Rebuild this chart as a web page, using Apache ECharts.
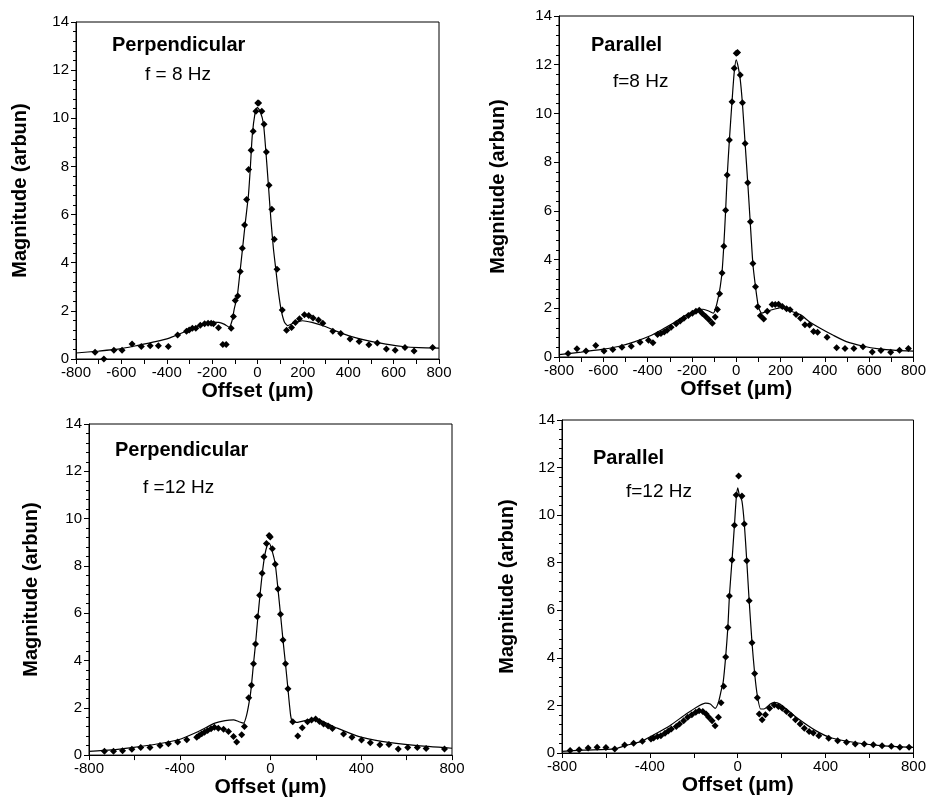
<!DOCTYPE html>
<html><head><meta charset="utf-8">
<script src="https://cdn.jsdelivr.net/npm/echarts@6/dist/echarts.min.js"></script>
<style>html,body{margin:0;padding:0;background:#fff}#c{width:929px;height:799px}</style>
</head><body><div id="c"></div>
<script>
// ---- tick labels ----
const yTicks = [0, 2, 4, 6, 8, 10, 12, 14];
const xTicksTop = [-800, -600, -400, -200, 0, 200, 400, 600, 800];
const xTicksBottom = [-800, -400, 0, 400, 800];

// ---- panel titles ----
const panelTitles = ['Perpendicular', 'Parallel', 'Perpendicular', 'Parallel'];
const panelFreqs = ['f = 8 Hz', 'f=8 Hz', 'f =12 Hz', 'f=12 Hz'];
const xAxisTitle = 'Offset (\u03bcm)';
const yAxisTitle = 'Magnitude (arbun)';

// ---- Panel 1: Perpendicular, 8 Hz ----
const p1Points = [[-716,0.28],[-677,0.0],[-633,0.36],[-597,0.36],[-553,0.62],[-512,0.52],[-473,0.55],[-437,0.55],[-393,0.52],[-352,1.0],[-313,1.15],[-301,1.2],[-287,1.28],[-272,1.28],[-252,1.4],[-233,1.46],[-218,1.49],[-204,1.49],[-194,1.46],[-172,1.3],[-153,0.6],[-138,0.6],[-116,1.28],[-106,1.77],[-98,2.43],[-87,2.62],[-76,3.63],[-67,4.6],[-57,5.57],[-48,6.63],[-39,7.87],[-28,8.67],[-19,9.46],[-7,10.29],[1,10.64],[5,10.64],[19,10.29],[29,9.75],[39,8.6],[51,7.22],[63,6.22],[74,4.97],[86,3.73],[109,2.04],[128,1.19],[150,1.31],[167,1.52],[185,1.67],[207,1.84],[226,1.81],[245,1.7],[269,1.62],[288,1.49],[332,1.15],[367,1.06],[408,0.83],[448,0.73],[491,0.59],[528,0.66],[568,0.42],[607,0.36],[650,0.48],[690,0.33],[772,0.48]];
const p1Curve = [[-800,0.25],[-700,0.33],[-600,0.43],[-536,0.55],[-450,0.72],[-389,0.87],[-315,1.15],[-242,1.45],[-200,1.53],[-170,1.52],[-145,1.44],[-125,1.32],[-112,1.6],[-102,2.1],[-89,2.63],[-77,3.63],[-65,4.67],[-54,5.64],[-40,6.8],[-32,7.88],[-23,9.3],[-11,10.2],[-1,10.45],[11,10.3],[26,9.79],[37,8.61],[48,7.23],[59,5.8],[70,4.6],[81,3.7],[92,2.8],[104,2.05],[118,1.55],[132,1.39],[160,1.5],[198,1.59],[240,1.52],[286,1.39],[350,1.15],[419,0.92],[490,0.75],[566,0.62],[640,0.52],[712,0.47],[800,0.45]];

// ---- Panel 2: Parallel, 8 Hz ----
const p2Points = [[-759,0.14],[-719,0.34],[-678,0.25],[-634,0.47],[-597,0.25],[-557,0.31],[-516,0.4],[-474,0.44],[-434,0.61],[-396,0.69],[-376,0.59],[-355,0.92],[-340,0.96],[-325,1.03],[-312,1.1],[-294,1.22],[-271,1.36],[-253,1.48],[-236,1.59],[-216,1.7],[-198,1.8],[-182,1.88],[-167,1.92],[-153,1.79],[-138,1.66],[-123,1.53],[-108,1.39],[-95,1.64],[-85,1.95],[-75,2.6],[-64,3.45],[-56,4.55],[-48,6.03],[-41,7.47],[-31,8.91],[-19,10.48],[-9,11.85],[0,12.47],[6,12.5],[18,11.58],[28,10.44],[40,8.77],[52,7.15],[64,5.55],[75,3.84],[87,2.88],[97,2.06],[109,1.69],[124,1.56],[140,1.88],[162,2.16],[176,2.16],[191,2.17],[208,2.07],[227,1.98],[243,1.94],[270,1.74],[290,1.59],[310,1.32],[331,1.31],[349,1.05],[367,1.02],[410,0.81],[453,0.38],[491,0.35],[531,0.35],[572,0.42],[614,0.21],[653,0.27],[697,0.2],[737,0.28],[777,0.35]];
const p2Curve = [[-800,0.1],[-700,0.2],[-600,0.32],[-532,0.43],[-460,0.62],[-385,0.88],[-340,1.1],[-297,1.32],[-238,1.66],[-200,1.85],[-170,1.95],[-150,1.96],[-120,1.87],[-103,1.8],[-90,2.1],[-80,2.5],[-72,2.9],[-64,3.5],[-56,4.6],[-48,6.0],[-41,7.4],[-31,8.9],[-19,10.5],[-9,11.7],[0,12.2],[9,11.9],[18,11.4],[28,10.4],[40,8.77],[52,7.15],[63,5.55],[75,3.84],[87,2.88],[100,2.07],[115,1.8],[140,1.88],[174,1.97],[203,2.03],[240,1.9],[291,1.73],[330,1.45],[379,1.18],[440,0.88],[497,0.63],[570,0.45],[644,0.33],[720,0.27],[800,0.24]];

// ---- Panel 3: Perpendicular, 12 Hz ----
const p3Points = [[-732,0.16],[-692,0.16],[-652,0.18],[-611,0.25],[-572,0.32],[-531,0.32],[-487,0.41],[-450,0.48],[-409,0.55],[-369,0.65],[-325,0.76],[-315,0.83],[-303,0.9],[-291,0.97],[-277,1.04],[-262,1.11],[-247,1.18],[-230,1.14],[-207,1.09],[-185,1.0],[-163,0.79],[-149,0.55],[-127,0.86],[-115,1.21],[-96,2.43],[-84,2.95],[-75,3.86],[-66,4.7],[-58,5.85],[-48,6.76],[-37,7.69],[-29,8.39],[-18,8.95],[-6,9.29],[-1,9.22],[8,8.73],[21,8.07],[33,7.02],[44,5.96],[55,4.87],[66,3.86],[77,2.81],[98,1.41],[120,0.81],[140,1.16],[163,1.41],[181,1.48],[199,1.53],[216,1.42],[234,1.32],[254,1.23],[273,1.13],[322,0.89],[359,0.75],[401,0.64],[440,0.52],[482,0.44],[522,0.45],[563,0.26],[605,0.32],[647,0.32],[686,0.28],[767,0.26]];
const p3Curve = [[-800,0.16],[-700,0.22],[-611,0.32],[-500,0.47],[-406,0.65],[-318,1.0],[-245,1.35],[-200,1.46],[-163,1.49],[-141,1.42],[-119,1.35],[-105,1.7],[-90,2.47],[-84,2.95],[-75,3.86],[-66,4.7],[-56,5.8],[-46,6.8],[-36,7.7],[-26,8.4],[-15,8.85],[-5,8.95],[8,8.6],[21,8.07],[33,7.02],[44,5.96],[55,4.87],[66,3.86],[76,2.89],[85,2.0],[93,1.49],[115,1.38],[167,1.49],[196,1.54],[284,1.18],[387,0.79],[490,0.58],[637,0.41],[800,0.29]];

// ---- Panel 4: Parallel, 12 Hz ----
const p4Points = [[-763,0.1],[-722,0.14],[-681,0.21],[-640,0.24],[-600,0.23],[-560,0.17],[-515,0.34],[-474,0.41],[-434,0.49],[-395,0.59],[-383,0.63],[-365,0.69],[-350,0.73],[-331,0.83],[-316,0.93],[-302,1.01],[-280,1.11],[-265,1.22],[-246,1.36],[-228,1.5],[-209,1.61],[-191,1.71],[-176,1.78],[-159,1.74],[-144,1.64],[-132,1.5],[-117,1.36],[-103,1.15],[-88,1.5],[-76,2.11],[-64,2.81],[-55,4.04],[-45,5.28],[-38,6.6],[-26,8.11],[-15,9.58],[-7,10.85],[4,11.65],[19,10.8],[30,9.63],[41,8.08],[52,6.4],[65,4.63],[77,3.34],[89,2.32],[98,1.64],[111,1.4],[126,1.61],[145,1.88],[166,2.02],[185,1.96],[203,1.88],[222,1.74],[241,1.6],[263,1.4],[284,1.22],[303,1.04],[325,0.9],[344,0.84],[369,0.73],[414,0.62],[455,0.52],[495,0.45],[535,0.38],[576,0.38],[617,0.35],[657,0.31],[699,0.28],[738,0.24],[780,0.24]];
const p4Curve = [[-800,0.07],[-700,0.12],[-560,0.17],[-515,0.3],[-474,0.4],[-434,0.5],[-397,0.69],[-309,1.15],[-235,1.64],[-176,1.99],[-147,2.1],[-125,2.06],[-103,1.88],[-88,2.13],[-76,2.6],[-66,3.0],[-55,4.04],[-45,5.28],[-38,6.6],[-26,8.11],[-15,9.58],[-7,10.7],[0,11.15],[7,10.85],[19,10.6],[30,9.63],[41,8.08],[52,6.4],[65,4.63],[77,3.34],[89,2.42],[104,1.85],[119,1.85],[148,2.06],[166,2.13],[192,2.06],[266,1.5],[355,0.94],[428,0.63],[547,0.42],[650,0.31],[800,0.24]];

const pointsList = [p1Points, p2Points, p3Points, p4Points];
const curveList = [p1Curve, p2Curve, p3Curve, p4Curve];
const xTickSets = [xTicksTop, xTicksTop, xTicksBottom, xTicksBottom];

// ---- layout ----
const FONT = '"Liberation Sans", Arial, Helvetica, sans-serif';
const grids = [
  {left: 76, top: 22, width: 363, height: 337},
  {left: 559, top: 16, width: 363, height: 341},
  {left: 89, top: 424, width: 363, height: 333},
  {left: 562, top: 420, width: 361, height: 333}
];
const yNameGap = [46, 51, 48, 45];
const xNameGap = [18, 18, 17, 17];
const titlePos = [[112, 47], [591, 47], [115, 452], [593, 460]];
const freqPos = [[145, 76], [613, 83], [143, 489], [626, 493]];

const chart = echarts.init(document.getElementById('c'), null, {renderer: 'canvas'});

const option = {
  animation: false,
  backgroundColor: '#fff',
  grid: grids.map(g => Object.assign({show: true, borderColor: '#000', borderWidth: 1, containLabel: false}, g)),
  xAxis: grids.map((g, i) => {
    const t = xTickSets[i];
    return {
      type: 'value', gridIndex: i,
      min: t[0], max: t[t.length - 1], interval: t[1] - t[0],
      name: xAxisTitle, nameLocation: 'middle', nameGap: xNameGap[i],
      nameTextStyle: {fontFamily: FONT, fontWeight: 'bold', fontSize: 21, color: '#000', verticalAlign: 'top'},
      axisLine: {show: true, onZero: false, lineStyle: {color: '#000', width: 1}},
      axisTick: {show: true, inside: false, length: 5, lineStyle: {color: '#000'}},
      minorTick: {show: true, splitNumber: 2, length: 5, lineStyle: {color: '#000'}},
      axisLabel: {fontFamily: FONT, fontSize: 15, color: '#000', margin: 6},
      splitLine: {show: false}
    };
  }),
  yAxis: grids.map((g, i) => ({
    type: 'value', gridIndex: i,
    min: yTicks[0], max: yTicks[yTicks.length - 1], interval: yTicks[1] - yTicks[0],
    name: yAxisTitle, nameLocation: 'middle', nameGap: yNameGap[i], nameRotate: 90,
    nameTextStyle: {fontFamily: FONT, fontWeight: 'bold', fontSize: 20, color: '#000'},
    axisLine: {show: true, onZero: false, lineStyle: {color: '#000', width: 1}},
    axisTick: {show: true, inside: false, length: 5, lineStyle: {color: '#000'}},
    minorTick: {show: true, splitNumber: 5, length: 3, lineStyle: {color: '#000'}},
    axisLabel: {fontFamily: FONT, fontSize: 15, color: '#000', margin: 7},
    splitLine: {show: false}
  })),
  series: [].concat(
    curveList.map((c, i) => ({
      type: 'line', xAxisIndex: i, yAxisIndex: i, data: c,
      showSymbol: false, symbol: 'none', smooth: 0.2,
      lineStyle: {color: '#000', width: 1.2}, z: 2
    })),
    pointsList.map((p, i) => ({
      type: 'scatter', xAxisIndex: i, yAxisIndex: i, data: p,
      symbol: 'diamond', symbolSize: 7,
      itemStyle: {color: '#000', opacity: 1}, z: 3
    }))
  ),
  graphic: [].concat(
    panelTitles.map((t, i) => ({
      type: 'text', left: titlePos[i][0], top: titlePos[i][1] - 12,
      style: {text: t, font: 'bold 20px ' + FONT, fill: '#000'}
    })),
    panelFreqs.map((t, i) => ({
      type: 'text', left: freqPos[i][0], top: freqPos[i][1] - 11,
      style: {text: t, font: '19px ' + FONT, fill: '#000'}
    }))
  )
};
chart.setOption(option);
</script>
</body></html>
